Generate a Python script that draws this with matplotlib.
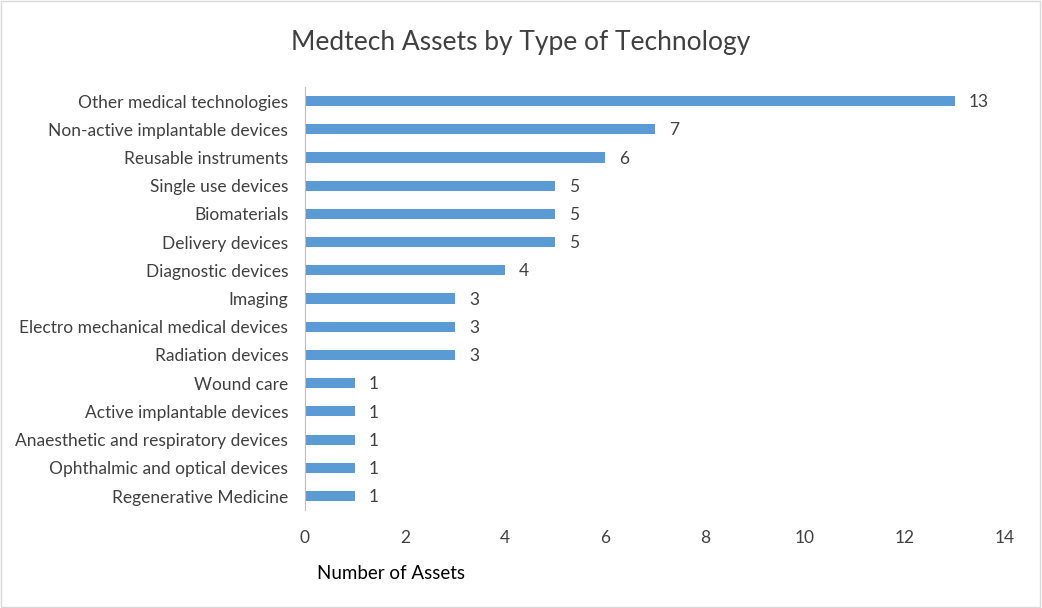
import matplotlib.pyplot as plt
from matplotlib.patches import Rectangle

plt.rcParams['font.family'] = ['Lato', 'DejaVu Sans']

categories = ['Other medical technologies', 'Non-active implantable devices', 'Reusable instruments',
              'Single use devices', 'Biomaterials', 'Delivery devices', 'Diagnostic devices', 'Imaging',
              'Electro mechanical medical devices', 'Radiation devices', 'Wound care',
              'Active implantable devices', 'Anaesthetic and respiratory devices',
              'Ophthalmic and optical devices', 'Regenerative Medicine']
counts = [13, 7, 6, 5, 5, 5, 4, 3, 3, 3, 1, 1, 1, 1, 1]
x_ticks = [0, 2, 4, 6, 8, 10, 12, 14]

text_col = '#404040'

fig = plt.figure(figsize=(10.42, 6.08), dpi=100)
ax = fig.add_axes([0.2927, 0.161, 0.6718, 0.696])

pos = list(range(len(categories)))
ax.barh(pos, counts, height=0.36, color='#5B9BD5')
for p, c in zip(pos, counts):
    ax.text(c + 0.28, p + 0.04, str(c), va='center', ha='left', fontsize=12.5, color=text_col)

ax.set_ylim(len(categories) - 0.5, -0.5)
ax.set_xlim(0, 14)
ax.set_yticks(pos)
ax.set_yticklabels(categories, fontsize=12.5, color=text_col)
ax.set_xticks(x_ticks)
ax.set_xticklabels([str(t) for t in x_ticks], fontsize=12.5, color=text_col)
ax.tick_params(length=0)
ax.tick_params(axis='x', pad=14)
ax.tick_params(axis='y', pad=12)
for s in ['top', 'right', 'bottom']:
    ax.spines[s].set_visible(False)
ax.spines['left'].set_color('#BFBFBF')
ax.spines['left'].set_linewidth(0.8)

fig.text(0.5, 0.93, 'Medtech Assets by Type of Technology', ha='center', va='center',
         fontsize=19, color=text_col)
fig.text(0.304, 0.057, 'Number of Assets', ha='left', va='center', fontsize=13.5, color='black')

fig.patches.append(Rectangle((0.001, 0.002), 0.997, 0.996, transform=fig.transFigure,
                             fill=False, edgecolor='#D9D9D9', linewidth=1))

fig.savefig('out.png', dpi=100)
